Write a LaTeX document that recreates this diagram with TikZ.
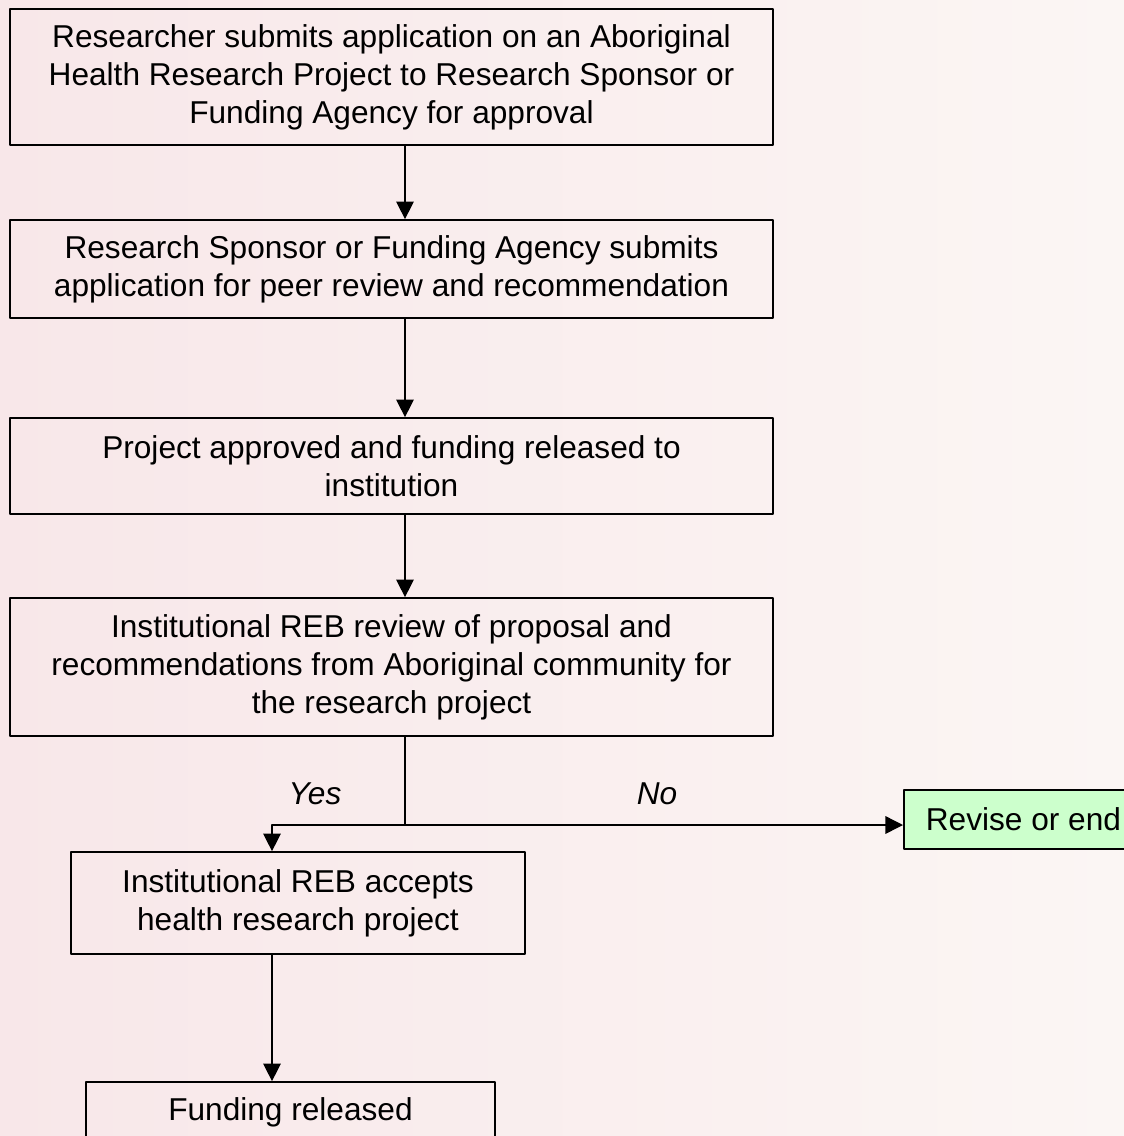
\documentclass[tikz,border=0pt]{standalone}
\usepackage{fontspec}
\setmainfont{Liberation Sans}
\usetikzlibrary{arrows.meta}
\definecolor{bgtop}{HTML}{F8E7E9}
\definecolor{bgbot}{HTML}{FBF6F4}
\definecolor{revisegreen}{HTML}{CCFFCC}
\begin{document}
\begin{tikzpicture}[x=0.02cm, y=-0.02cm, line join=round,
    >={Triangle[length=10pt, width=10pt]},
    stepbox/.style={draw, line width=1pt, fill=none, align=center, inner sep=0pt,
        font=\fontsize{18}{21.6}\selectfont},
    link/.style={->, line width=0.8pt},
    answer/.style={font=\fontsize{18}{21.6}\selectfont\itshape}]
    % page and background
    \useasboundingbox (0,0) rectangle (1124,1136);
    \shade[shading=axis, shading angle=120, left color=bgtop, right color=bgbot] (0,0) rectangle (1124,1136);
    % main column
    \foreach \y/\id/\h/\text in {
        77/b1/136/Researcher submits application on an Aboriginal\\Health Research Project to Research Sponsor or\\Funding Agency for approval,
        269/b2/98/Research Sponsor or Funding Agency submits\\application for peer review and recommendation,
        466/b3/96/Project approved and funding released to\\institution,
        667/b4/138/Institutional REB review of proposal and\\recommendations from Aboriginal community for\\the research project%
    } {
        \node[stepbox, minimum width=15.25cm, minimum height=\h*0.02cm] (\id) at (391.5, \y) {\text};
    }
    \coordinate (stem) at (405, 0);
    \draw[link] (b1.south -| stem) -- (b2.north -| stem);
    \draw[link] (b2.south -| stem) -- (b3.north -| stem);
    \draw[link] (b3.south -| stem) -- (b4.north -| stem);
    % decision
    \node[stepbox, fill=revisegreen, anchor=west, minimum height=1.18cm, inner xsep=0.44cm] (revise) at (903, 819.5) {Revise or end\hspace{1cm}};
    \node[stepbox, minimum width=9.08cm, minimum height=2.04cm] (b5) at (298, 903) {Institutional REB accepts\\health research project};
    \node[stepbox, minimum width=8.18cm, minimum height=1.2cm] (b6) at (290.5, 1112) {Funding released};
    \coordinate (split) at (405, 825);
    \coordinate (turn) at (272, 825);
    \draw[line width=0.8pt] (b4.south -| split) -- (split);
    \draw[link] (split) -- (split -| revise.west);
    \draw[link] (split) -- (turn) -- (turn |- b5.north);
    \draw[link] (b5.south -| turn) -- (b6.north -| turn);
    \node[answer] (yes) at (315, 794) {Yes};
    \node[answer] (no) at (657, 794) {No};
\end{tikzpicture}
\end{document}
